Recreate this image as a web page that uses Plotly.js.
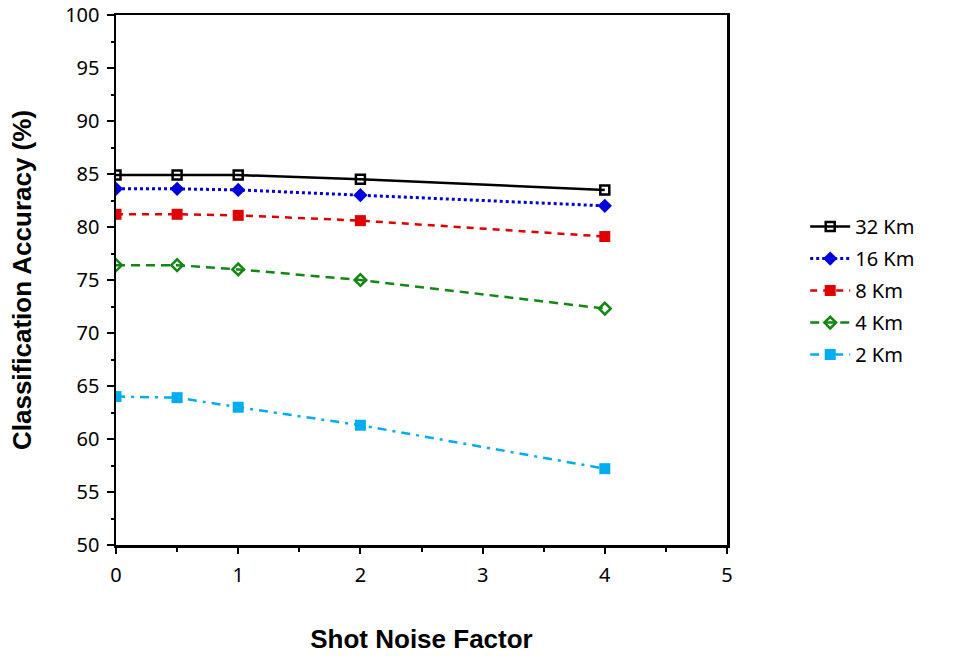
<!DOCTYPE html>
<html>
<head>
<meta charset="utf-8">
<script src="https://cdn.plot.ly/plotly-3.0.1.min.js"></script>
<style>html,body{margin:0;padding:0;background:#fff;}#chart{width:964px;height:656px;}</style>
</head>
<body>
<div id="chart"></div>
<script>
const noiseFactor = [0, 0.5, 1, 2, 4];
const km32 = [84.9, 84.9, 84.9, 84.5, 83.5];
const km16 = [83.6, 83.6, 83.5, 83.0, 82.0];
const km8  = [81.2, 81.2, 81.1, 80.6, 79.1];
const km4  = [76.4, 76.4, 76.0, 75.0, 72.3];
const km2  = [64.0, 63.9, 63.0, 61.3, 57.2];
const seriesNames = ['32 Km', '16 Km', '8 Km', '4 Km', '2 Km'];
const xTicks = [0, 1, 2, 3, 4, 5];
const yTicks = [50, 55, 60, 65, 70, 75, 80, 85, 90, 95, 100];

const traces = [
  {x: noiseFactor, y: km32, name: seriesNames[0], legendgroup: 'g1', mode: 'lines+markers',
   line: {color: '#000000', width: 2.5, dash: 'solid'},
   marker: {symbol: 'square-open', size: 9, color: '#000000', line: {width: 2.5, color: '#000000'}}},
  {x: noiseFactor, y: km16, name: seriesNames[1], legendgroup: 'g2', mode: 'lines+markers',
   line: {color: '#0000dd', width: 3, dash: 'dot'},
   marker: {symbol: 'diamond', size: 11, color: '#0000dd'}},
  {x: noiseFactor, y: km8, name: seriesNames[2], legendgroup: 'g3', mode: 'lines+markers',
   line: {color: '#e00000', width: 2.5, dash: '7px,6px'},
   marker: {symbol: 'square', size: 11, color: '#e00000'}},
  {x: noiseFactor, y: km4, name: seriesNames[3], legendgroup: 'g4', mode: 'lines+markers',
   line: {color: '#118811', width: 2.5, dash: '9px,6px'},
   marker: {symbol: 'diamond-open', size: 9, color: '#118811', line: {width: 2.5, color: '#118811'}}},
  {x: noiseFactor, y: km2, name: seriesNames[4], legendgroup: 'g5', mode: 'lines+markers',
   line: {color: '#00aeef', width: 2.5, dash: '9px,6px,3px,6px'},
   marker: {symbol: 'square', size: 11, color: '#00aeef'}}
];

const layout = {
  width: 964, height: 656,
  margin: {l: 116, r: 237, t: 15, b: 111, pad: 0},
  paper_bgcolor: '#ffffff', plot_bgcolor: '#ffffff',
  showlegend: true,
  legend: {x: 1.128, y: 0.48, xanchor: 'left', yanchor: 'middle',
           font: {family: 'Noto Sans, sans-serif', size: 20, color: '#000'},
           tracegroupgap: 3, itemwidth: 40, bgcolor: 'rgba(0,0,0,0)'},
  xaxis: {
    range: [0, 5], tickvals: xTicks,
    showgrid: false, zeroline: false,
    showline: true, linecolor: '#000', linewidth: 2.5, mirror: true,
    ticks: 'outside', ticklen: 6, tickwidth: 2, tickcolor: '#000', ticklabelstandoff: 4,
    minor: {tickvals: [0.5, 1.5, 2.5, 3.5, 4.5], ticks: 'outside', ticklen: 4, tickwidth: 2, tickcolor: '#000', showgrid: false},
    tickfont: {family: 'Noto Sans, sans-serif', size: 20, color: '#000'},
    title: {text: 'Shot Noise Factor', standoff: 44,
            font: {family: 'Liberation Sans, Arial, sans-serif', size: 26, color: '#000', weight: 'bold'}}
  },
  yaxis: {
    range: [50, 100], tickvals: yTicks,
    showgrid: false, zeroline: false,
    showline: true, linecolor: '#000', linewidth: 2.5, mirror: true,
    ticks: 'outside', ticklen: 7, tickwidth: 2, tickcolor: '#000', ticklabelstandoff: 3,
    minor: {dtick: 2.5, tick0: 50, ticks: 'outside', ticklen: 3, tickwidth: 2, tickcolor: '#000', showgrid: false},
    tickfont: {family: 'Noto Sans, sans-serif', size: 20, color: '#000'},
    title: {text: 'Classification Accuracy (%)', standoff: 26,
            font: {family: 'Liberation Sans, Arial, sans-serif', size: 26, color: '#000', weight: 'bold'}}
  }
};

Plotly.newPlot('chart', traces, layout, {displayModeBar: false, staticPlot: true});
</script>
</body>
</html>
